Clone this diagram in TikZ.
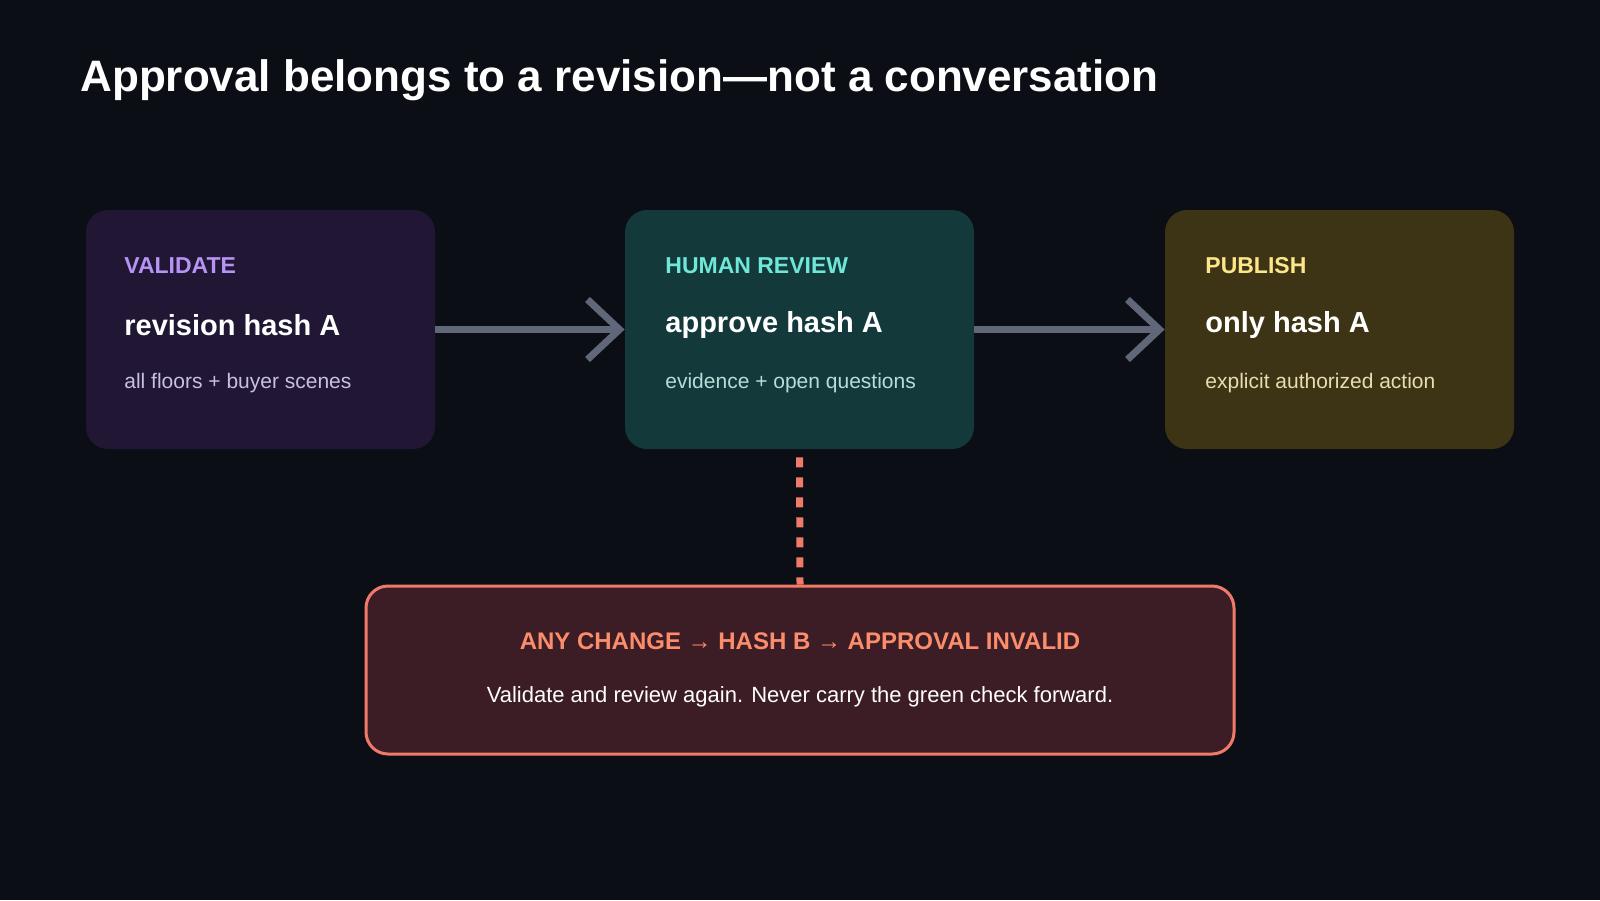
\documentclass[tikz,border=0pt]{standalone}
\usepackage{fontspec}
\setmainfont{Liberation Sans}
\usetikzlibrary{arrows.meta}
\definecolor{bg}{HTML}{0B0E15}
\definecolor{bA}{HTML}{211735}
\definecolor{bB}{HTML}{13393B}
\definecolor{bC}{HTML}{3C3414}
\definecolor{bR}{HTML}{3D1D25}
\definecolor{rB}{HTML}{F07A6A}
\definecolor{tA}{HTML}{B794F4}
\definecolor{tB}{HTML}{6EE7D8}
\definecolor{tC}{HTML}{FDE68A}
\definecolor{tR}{HTML}{FB8C6C}
\definecolor{sA}{HTML}{C8C0DD}
\definecolor{sB}{HTML}{B8DDD8}
\definecolor{sC}{HTML}{E8DDB0}
\definecolor{ar}{HTML}{5F6778}
\tikzset{
 box/.style={rounded corners=11pt,draw=none,minimum width=174.5pt,minimum height=119.5pt,inner sep=0pt},
 lab/.style={anchor=west,font=\fontsize{11.5}{13}\selectfont\bfseries,inner sep=0pt},
 main/.style={anchor=west,font=\fontsize{14.5}{16}\selectfont\bfseries,text=white,inner sep=0pt},
 sub/.style={anchor=west,font=\fontsize{10.5}{12}\selectfont,inner sep=0pt},
 flow/.style={draw=ar,line width=3.5pt,-{Straight Barb[length=16pt,width=30pt,line width=3.5pt]}}
}
\begin{document}
\begin{tikzpicture}[x=0.5pt,y=-0.5pt]
\fill[bg] (0,0) rectangle (1600,900);
\useasboundingbox (0,0) rectangle (1600,900);
\node[anchor=west,inner sep=0pt,text=white,font=\fontsize{22}{26}\selectfont\bfseries] (title) at (80,80) {Approval belongs to a revision—not a conversation};
\node[box,fill=bA] (v) at (260.5,329.5) {};
\node[box,fill=bB] (h) at (799.5,329.5) {};
\node[box,fill=bC] (p) at (1339.5,329.5) {};
\foreach \n/\x/\c/\s/\l/\m/\t in {v/124/tA/sA/VALIDATE/revision hash A/all floors + buyer scenes,h/665/tB/sB/HUMAN REVIEW/approve hash A/evidence + open questions,p/1205/tC/sC/PUBLISH/only hash A/explicit authorized action}{
 \node[lab,text=\c] (\n l) at (\x,266) {\l};
 \node[main] (\n m) at (\x,325) {\m};
 \node[sub,text=\s] (\n s) at (\x,383) {\t};
}
\draw[flow] (v.east) -- (h.west);
\draw[flow] (h.east) -- (p.west);
\node[rounded corners=11pt,draw=rB,line width=1.5pt,fill=bR,minimum width=434pt,minimum height=84pt] (r) at (800,670) {};
\draw[rB,line width=3.5pt,dash pattern=on 5pt off 5pt] ([yshift=-4pt]h.south) -- (r.north);
\node[inner sep=0pt,text=tR,font=\fontsize{12}{14}\selectfont\bfseries] (rl) at (800,641) {ANY CHANGE → HASH B → APPROVAL INVALID};
\node[inner sep=0pt,text=white,font=\fontsize{11}{13}\selectfont] (rs) at (800,697) {Validate and review again. Never carry the green check forward.};
\end{tikzpicture}
\end{document}
